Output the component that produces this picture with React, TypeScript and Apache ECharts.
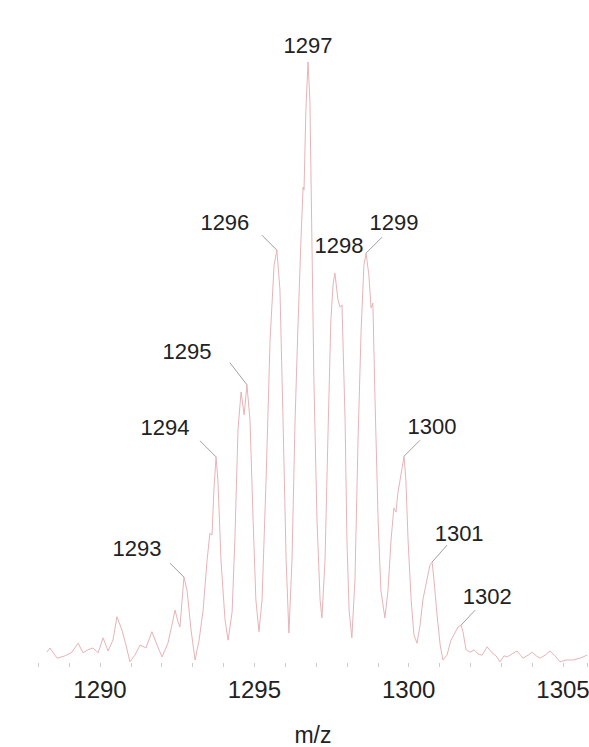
import React, { useEffect, useRef } from "react";
import * as echarts from "echarts";

// Spectrum trace (m/z, relative intensity)
const traceMz: number[] = [
  1288.28, 1288.38, 1288.61, 1288.87, 1289.09, 1289.29, 1289.45, 1289.61, 1289.77, 1289.94,
  1290.1, 1290.26, 1290.42, 1290.55, 1290.71, 1290.84, 1290.97, 1291.13, 1291.3, 1291.49,
  1291.68, 1291.85, 1292.01, 1292.2, 1292.33, 1292.43, 1292.53, 1292.59, 1292.72, 1292.82,
  1292.95, 1293.08, 1293.21, 1293.34, 1293.47, 1293.56, 1293.63, 1293.69, 1293.76, 1293.82,
  1293.92, 1294.05, 1294.15, 1294.28, 1294.37, 1294.47, 1294.57, 1294.67, 1294.76, 1294.86,
  1294.96, 1295.05, 1295.15, 1295.25, 1295.38, 1295.51, 1295.64, 1295.73, 1295.83, 1295.93,
  1296.03, 1296.12, 1296.22, 1296.32, 1296.41, 1296.51, 1296.58, 1296.61, 1296.67, 1296.74,
  1296.8, 1296.87, 1296.93, 1297.03, 1297.13, 1297.19, 1297.29, 1297.39, 1297.48, 1297.55,
  1297.61, 1297.71, 1297.78, 1297.84, 1297.94, 1298.0, 1298.07, 1298.16, 1298.26, 1298.36,
  1298.46, 1298.55, 1298.62, 1298.71, 1298.78, 1298.84, 1298.91, 1299.01, 1299.1, 1299.23,
  1299.33, 1299.43, 1299.52, 1299.59, 1299.65, 1299.75, 1299.85, 1299.91, 1299.98, 1300.08,
  1300.17, 1300.27, 1300.37, 1300.46, 1300.59, 1300.69, 1300.76, 1300.82, 1300.92, 1301.02,
  1301.11, 1301.24, 1301.37, 1301.5, 1301.6, 1301.7, 1301.76, 1301.86, 1301.99, 1302.12,
  1302.25, 1302.38, 1302.54, 1302.7, 1302.83, 1302.96, 1303.09, 1303.19, 1303.35, 1303.51,
  1303.64, 1303.7, 1303.87, 1304.0, 1304.13, 1304.26, 1304.42, 1304.58, 1304.74, 1304.9,
  1305.1, 1305.32, 1305.55, 1305.78,
];

const traceIntensity: number[] = [
  1.8, 2.5, 0.8, 1.2, 1.8, 3.3, 1.7, 2.2, 2.5, 1.7,
  4.2, 2.0, 3.8, 7.7, 5.5, 3.0, 0.2, 1.3, 3.0, 2.5,
  5.2, 3.0, 1.0, 3.3, 6.3, 8.8, 6.8, 6.0, 14.3, 12.1,
  5.5, 0.5, 3.8, 8.8, 17.1, 21.6, 21.3, 28.8, 34.3, 30.4,
  17.1, 7.2, 3.8, 8.5, 20.5, 38.8, 45.1, 41.3, 46.3, 40.4,
  23.8, 10.5, 5.2, 10.5, 30.4, 53.7, 66.2, 68.7, 62.1, 40.4,
  17.1, 5.0, 17.1, 40.4, 55.4, 70.4, 79.2, 78.7, 92.0, 100,
  93.7, 68.7, 47.1, 23.8, 10.5, 7.5, 17.1, 38.8, 57.1, 62.9,
  64.9, 60.4, 59.2, 59.6, 40.4, 20.5, 8.8, 4.2, 13.8, 37.1,
  55.4, 66.2, 68.2, 64.6, 59.1, 59.9, 43.8, 23.8, 12.1, 7.5,
  12.1, 20.5, 25.8, 25.1, 28.3, 31.3, 34.4, 30.4, 20.5, 10.5,
  4.7, 3.3, 6.3, 10.5, 13.8, 16.3, 16.8, 13.8, 8.0, 3.0,
  0.5, 1.3, 3.8, 5.0, 6.0, 6.3, 5.2, 2.2, 1.8, 2.2,
  1.5, 1.3, 2.7, 1.7, 1.2, 0.2, 1.2, 1.0, 1.5, 2.0,
  1.2, 0.8, 1.3, 1.8, 1.2, 0.8, 1.3, 2.0, 1.2, 0.2,
  0.5, 0.5, 0.8, 1.3,
];

// Annotated peaks
const peakLabels: string[] = ["1293", "1294", "1295", "1296", "1297", "1298", "1299", "1300", "1301", "1302"];
const peakMz: number[] = [1292.72, 1293.76, 1294.76, 1295.73, 1296.74, 1297.61, 1298.62, 1299.85, 1300.76, 1301.7];
const peakIntensity: number[] = [14.3, 34.3, 46.3, 68.7, 100, 64.9, 68.2, 34.4, 16.8, 6.3];

// Axis ticks
const xTickLabels: number[] = [1290, 1295, 1300, 1305];

// Layout of annotations (pixel offsets from the peak: label dx, dy, leader start lx, ly)
const labelOffsets: number[][] = [
  [-47, -29, -14, -14],
  [-51, -29, -16, -16],
  [-60, -33, -17, -22],
  [-52, -28, -15, -15],
  [0, -17, 0, 0],
  [4, -27, 0, 0],
  [28, -31, 16, -16],
  [28, -30, 16, -16],
  [27, -29, 15, -17],
  [26, -29, 14, -15],
];

const FONT = "'Liberation Sans', Arial, sans-serif";

export default function App() {
  const ref = useRef<HTMLDivElement>(null);

  useEffect(() => {
    if (!ref.current) return;
    const chart = echarts.init(ref.current, undefined, { renderer: "svg" });
    const trace = traceMz.map((m, i) => [m, traceIntensity[i]]);
    const peaks = peakMz.map((m, i) => [m, peakIntensity[i]]);

    chart.setOption({
      animation: false,
      backgroundColor: "#ffffff",
      grid: {
        left: 38.27,
        right: 1.31,
        top: 32,
        bottom: 84,
        containLabel: false,
        outerBoundsMode: "none",
      },
      xAxis: {
        type: "value",
        min: 1288,
        max: 1305.8,
        interval: 1,
        name: "m/z",
        nameLocation: "middle",
        nameGap: 60,
        nameTextStyle: { fontSize: 23, color: "#222", fontFamily: FONT },
        axisLine: { show: false },
        splitLine: { show: false },
        axisTick: {
          show: true,
          length: 4,
          interval: (_i: number, v: number) => Number.isInteger(v),
          lineStyle: { color: "#cccccc", width: 1 },
        },
        axisLabel: {
          interval: 0,
          margin: 14,
          fontSize: 24,
          color: "#222",
          fontFamily: FONT,
          formatter: (v: number) => (xTickLabels.includes(v) ? String(v) : ""),
        },
      },
      yAxis: {
        type: "value",
        min: 0,
        max: 105,
        show: false,
        splitLine: { show: false },
      },
      series: [
        {
          type: "line",
          data: trace,
          showSymbol: false,
          symbol: "none",
          smooth: false,
          clip: false,
          lineStyle: { color: "#e8b3b7", width: 1 },
          z: 2,
        },
        {
          type: "custom",
          data: peaks,
          z: 3,
          renderItem: (params: any, api: any) => {
            const i = params.dataIndex;
            const p = api.coord([api.value(0), api.value(1)]);
            const [dx, dy, lx, ly] = labelOffsets[i];
            const children: any[] = [
              {
                type: "text",
                x: p[0] + dx,
                y: p[1] + dy,
                style: {
                  text: peakLabels[i],
                  fontSize: 22,
                  fontFamily: FONT,
                  fill: "#222",
                  align: "center",
                  verticalAlign: "middle",
                },
              },
            ];
            if (lx !== 0 || ly !== 0) {
              children.push({
                type: "line",
                shape: { x1: p[0] + lx, y1: p[1] + ly, x2: p[0], y2: p[1] },
                style: { stroke: "#a0a0a0", lineWidth: 1 },
              });
            }
            return { type: "group", children };
          },
        },
      ],
    });

    return () => chart.dispose();
  }, []);

  return (
    <div
      ref={ref}
      style={{ position: "absolute", left: 0, top: 0, width: 589, height: 747 }}
    />
  );
}
